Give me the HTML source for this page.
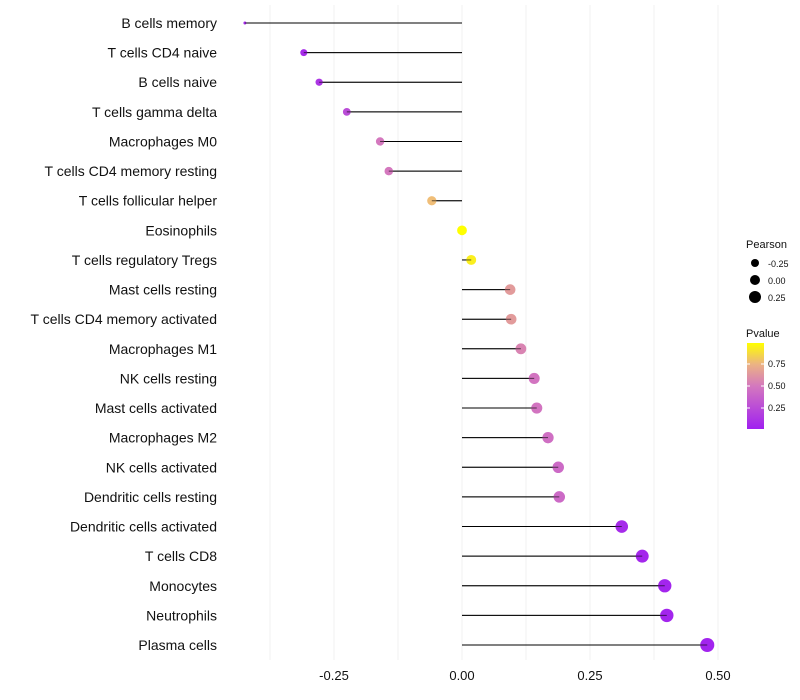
<!DOCTYPE html>
<html><head><meta charset="utf-8"><style>
body{margin:0;background:#fff;font-family:"Liberation Sans",sans-serif}
svg{display:block}
</style></head><body>
<svg id="chart" width="800" height="700"></svg>
<script>
const categories=["B cells memory","T cells CD4 naive","B cells naive","T cells gamma delta","Macrophages M0","T cells CD4 memory resting","T cells follicular helper","Eosinophils","T cells regulatory  Tregs ","Mast cells resting","T cells CD4 memory activated","Macrophages M1","NK cells resting","Mast cells activated","Macrophages M2","NK cells activated","Dendritic cells resting","Dendritic cells activated","T cells CD8","Monocytes","Neutrophils","Plasma cells"];
const pearson=[-0.424,-0.309,-0.279,-0.225,-0.160,-0.143,-0.059,0.0,0.018,0.094,0.096,0.115,0.141,0.146,0.168,0.188,0.190,0.312,0.352,0.396,0.400,0.479];
const pvalue=[0.05,0.06,0.12,0.25,0.5,0.5,0.8,1.0,0.95,0.65,0.65,0.55,0.48,0.48,0.45,0.42,0.42,0.06,0.04,0.03,0.03,0.02];
const xTicks=[-0.25,0,0.25,0.5];
const xTickLabels=["-0.25","0.00","0.25","0.50"];
const legendSizes=[-0.25,0,0.25];
const legendPTicks=[0.25,0.5,0.75];

const NS="http://www.w3.org/2000/svg";
const svg=document.getElementById('chart');
const x=v=>462+v*512;
const y=i=>23+i*(622/21);
const rad=v=>v<-0.309?Math.max(1.5,1.5+(v+0.424)/0.115*2):3.5+4.5*(v+0.309);
function lerp(a,b,t){return a.map((c,i)=>Math.round(c+(b[i]-c)*t));}
function col(p){const s=[[160,32,240],[212,120,190],[240,190,120],[255,255,0]];const st=[0,0.5,0.8,1];
 for(let k=0;k<3;k++){if(p<=st[k+1]){const c=lerp(s[k],s[k+1],(p-st[k])/(st[k+1]-st[k]));return `rgb(${c})`;}}return 'rgb(255,255,0)';}
function mk(t,a,p){const e=document.createElementNS(NS,t);for(const k in a)e.setAttribute(k,a[k]);(p||svg).appendChild(e);return e;}

const grid=mk('g',{});


for(let v=-0.375;v<=0.51;v+=0.125){mk('line',{x1:x(v),x2:x(v),y1:5,y2:660,stroke:'#f0f0f0','stroke-width':1},grid);}
xTicks.forEach((v,i)=>{const t=mk('text',{x:x(v),y:680,'text-anchor':'middle','font-size':13,fill:'#111'});t.textContent=xTickLabels[i];

});
categories.forEach((c,i)=>{
 const g=mk('g',{});
 
 
 const t=mk('text',{x:217,y:y(i)+5,'text-anchor':'end','font-size':14,fill:'#111'},g);t.textContent=c;
 
 
 mk('line',{x1:x(0),x2:x(pearson[i]),y1:y(i),y2:y(i),stroke:'#000','stroke-width':1},g);
 const ci=mk('circle',{cx:x(pearson[i]),cy:y(i),r:rad(pearson[i]),fill:col(pvalue[i])},g);
 
 
 mk('line',{x1:x(0),x2:x(pearson[i]),y1:y(i),y2:y(i),stroke:'#000','stroke-width':1,'stroke-opacity':0.6},g);
});
const lg=mk('g',{});


let tt=mk('text',{x:746,y:248,'font-size':11,fill:'#111'},lg);tt.textContent='Pearson';
legendSizes.forEach((v,i)=>{mk('circle',{cx:755,cy:263+i*17,r:3.5+i*1+0.5,fill:'#000'},lg);
 const t=mk('text',{x:768,y:267+i*17,'font-size':9,fill:'#111'},lg);t.textContent=v.toFixed(2);});
const lp=mk('g',{});


tt=mk('text',{x:746,y:337,'font-size':11,fill:'#111'},lp);tt.textContent='Pvalue';
const defs=mk('defs',{});const gr=mk('linearGradient',{id:'pg',x1:0,y1:1,x2:0,y2:0},defs);
[0,0.25,0.5,0.75,1].forEach(s=>mk('stop',{offset:s,'stop-color':col(s)},gr));
mk('rect',{x:747,y:343,width:17,height:86,fill:'url(#pg)'},lp);
legendPTicks.forEach(v=>{const yy=430-v*88;
 mk('line',{x1:747,x2:750,y1:yy,y2:yy,stroke:'#fff'},lp);mk('line',{x1:761,x2:764,y1:yy,y2:yy,stroke:'#fff'},lp);
 const t=mk('text',{x:768,y:yy+3,'font-size':9,fill:'#111'},lp);t.textContent=v.toFixed(2);});
</script>
</body></html>
